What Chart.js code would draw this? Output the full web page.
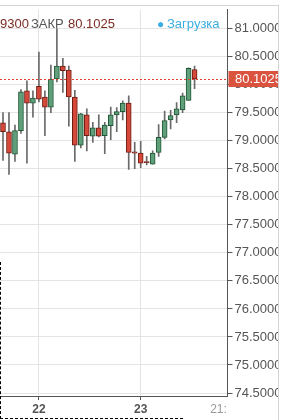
<!DOCTYPE html>
<html lang="ru">
<head>
<meta charset="UTF-8">
<title>Свечи</title>
<script src="https://cdn.jsdelivr.net/npm/chart.js@4/dist/chart.umd.min.js"></script>
<style>
  body { margin: 0; background: #fff; font-family: "Liberation Sans", Arial, sans-serif; }
  #wrap { position: absolute; left: 0; top: 0; width: 278px; height: 420px; overflow: hidden; }
  #box { position: absolute; left: 0; top: 0; width: 300px; height: 420px; }
  #cut { position: absolute; left: 228px; top: 397px; width: 50px; height: 23px; background: #fff; }
  #topline { position: absolute; left: 0; top: 5px; width: 279px; height: 1px; background: #d4d4d4; }
  #rightline { position: absolute; left: 278px; top: 5px; width: 1px; height: 415px; background: #d4d4d4; }
  .hd { position: absolute; top: 16px; font-size: 13px; line-height: 16px; white-space: nowrap; }
  #dashed { position: absolute; left: 0; top: 262px; width: 182px; height: 156px;
            border-left: 1px dashed #000; border-bottom: 1px dashed #000; }
</style>
</head>
<body>
<div id="wrap">
  <div id="box"><canvas id="chart"></canvas></div>
  <div id="cut"></div>
</div>
<div id="topline"></div>
<div id="rightline"></div>
<span class="hd" style="left:0;color:#7a2b22">9300</span>
<span class="hd" style="left:31px;color:#555">ЗАКР</span>
<span class="hd" style="left:68px;color:#7a2b22">80.1025</span>
<span class="hd" style="left:157px;color:#3aaee0;font-size:12px">●</span>
<span class="hd" style="left:167px;color:#3aaee0">Загрузка</span>
<div id="dashed"></div>
<script>
// подписи оси X (часовые свечи)
var labels = Array(38).fill('');
labels[6] = '22';
labels[23] = '23';
labels[36] = '21:';

// деления оси цен
var yTicks = [74.5, 75, 75.5, 76, 76.5, 77, 77.5, 78, 78.5, 79, 79.5, 80, 80.5, 81];

// цены OHLC
var opens  = [79.32, 79.16, 78.76, 79.18, 79.89, 79.67, 79.97, 79.78, 79.60, 80.10, 80.33, 80.26, 79.78, 78.92, 79.46, 79.08, 79.23,
              79.09, 79.27, 79.46, 79.52, 79.67, 78.80, 78.78, 78.63, 78.58, 78.79, 79.06, 79.37, 79.46, 79.55, 79.72, 80.27];
var closes = [79.16, 78.78, 79.18, 79.87, 79.67, 79.76, 79.74, 79.60, 80.10, 80.33, 80.25, 79.78, 78.92, 79.48, 79.09, 79.23, 79.08,
              79.28, 79.46, 79.52, 79.67, 78.79, 78.78, 78.60, 78.61, 78.78, 79.06, 79.36, 79.45, 79.57, 79.80, 80.29, 80.1025];
var highs  = [79.50, 79.50, 79.28, 79.91, 80.07, 79.89, 80.58, 79.89, 80.35, 81.00, 80.47, 80.33, 79.90, 79.49, 79.57, 79.33, 79.46,
              79.33, 79.60, 79.59, 79.71, 79.80, 78.97, 78.99, 78.72, 78.82, 79.29, 79.53, 79.54, 79.68, 79.85, 80.30, 80.33];
var lows   = [78.65, 78.40, 78.63, 79.13, 78.60, 79.42, 79.69, 79.09, 79.50, 80.05, 79.86, 79.26, 78.63, 78.87, 78.82, 78.97, 79.07,
              78.77, 79.02, 79.16, 79.37, 78.49, 78.50, 78.52, 78.57, 78.58, 78.72, 79.03, 79.21, 79.32, 79.50, 79.72, 79.93];

var lastPrice = 80.1025;

var up = closes.map(function (c, i) { return c >= opens[i]; });

// линия и метка последней цены
var pricePlugin = {
    id: 'price',
    afterDraw: function (chart) {
        var ctx = chart.ctx, area = chart.chartArea;
        var y = Math.round(chart.scales.y.getPixelForValue(lastPrice)) + 0.5;
        ctx.save();
        ctx.strokeStyle = '#e0402e';
        ctx.lineWidth = 1;
        ctx.setLineDash([2, 2]);
        ctx.beginPath();
        ctx.moveTo(area.left, y);
        ctx.lineTo(area.right, y);
        ctx.stroke();
        ctx.setLineDash([]);
        ctx.fillStyle = '#d9533f';
        ctx.fillRect(area.right + 1, y - 8.5, 70, 16);
        ctx.fillStyle = '#fff';
        ctx.font = '13px "Liberation Sans", Arial, sans-serif';
        ctx.textBaseline = 'middle';
        ctx.fillText(lastPrice.toFixed(4), area.right + 7.5, y);
        ctx.restore();
    }
};

Chart.defaults.font.family = '"Liberation Sans", Arial, sans-serif';

var chart = new Chart(document.getElementById('chart'), {
    type: 'bar',
    data: {
        labels: labels,
        datasets: [{
            // тела свечей
            data: opens.map(function (o, i) { return [o, closes[i]]; }),
            backgroundColor: up.map(function (u) { return u ? '#5f9f79' : '#d5493a'; }),
            borderColor: up.map(function (u) { return u ? '#1f5634' : '#6e1d14'; }),
            borderWidth: 1,
            borderSkipped: false,
            barThickness: 5,
            grouped: false,
            order: 1
        }, {
            // тени
            data: lows.map(function (l, i) { return [l, highs[i]]; }),
            backgroundColor: '#6a6a6a',
            borderWidth: 0,
            barThickness: 1,
            grouped: false,
            order: 2
        }]
    },
    options: {
        responsive: true,
        maintainAspectRatio: false,
        animation: false,
        layout: { padding: { left: -0.5, top: 5, right: 0, bottom: 0 } },
        plugins: { legend: { display: false }, tooltip: { enabled: false } },
        scales: {
            x: {
                offset: true,
                afterFit: function (s) { s.height = 24; },
                grid: {
                    offset: false,
                    tickLength: 4,
                    color: function (c) { return (c.tick && (c.tick.label === '22' || c.tick.label === '23')) ? '#e4e4e4' : 'rgba(0,0,0,0)'; },
                    tickColor: function (c) { return (c.tick && (c.tick.label === '22' || c.tick.label === '23')) ? '#555' : 'rgba(0,0,0,0)'; }
                },
                border: { color: '#555' },
                ticks: {
                    autoSkip: false,
                    maxRotation: 0,
                    padding: 2,
                    color: function (c) { return c.tick && c.tick.label === '21:' ? '#9a9a9a' : '#555'; },
                    font: function (c) { return { size: 12, weight: c.tick && c.tick.label === '21:' ? 'normal' : 'bold' }; }
                }
            },
            y: {
                position: 'right',
                min: 74.447,
                max: 81.335,
                afterFit: function (s) { s.width = 72.5; },
                afterBuildTicks: function (s) {
                    s.ticks = yTicks.map(function (v) { return { value: v }; });
                },
                grid: { color: '#e4e4e4', tickColor: '#555', tickLength: 5 },
                border: { color: '#555' },
                ticks: {
                    padding: 2,
                    color: '#555',
                    font: { size: 13 },
                    callback: function (v) { return Number(v).toFixed(4); }
                }
            }
        }
    },
    plugins: [pricePlugin]
});
</script>
</body>
</html>
